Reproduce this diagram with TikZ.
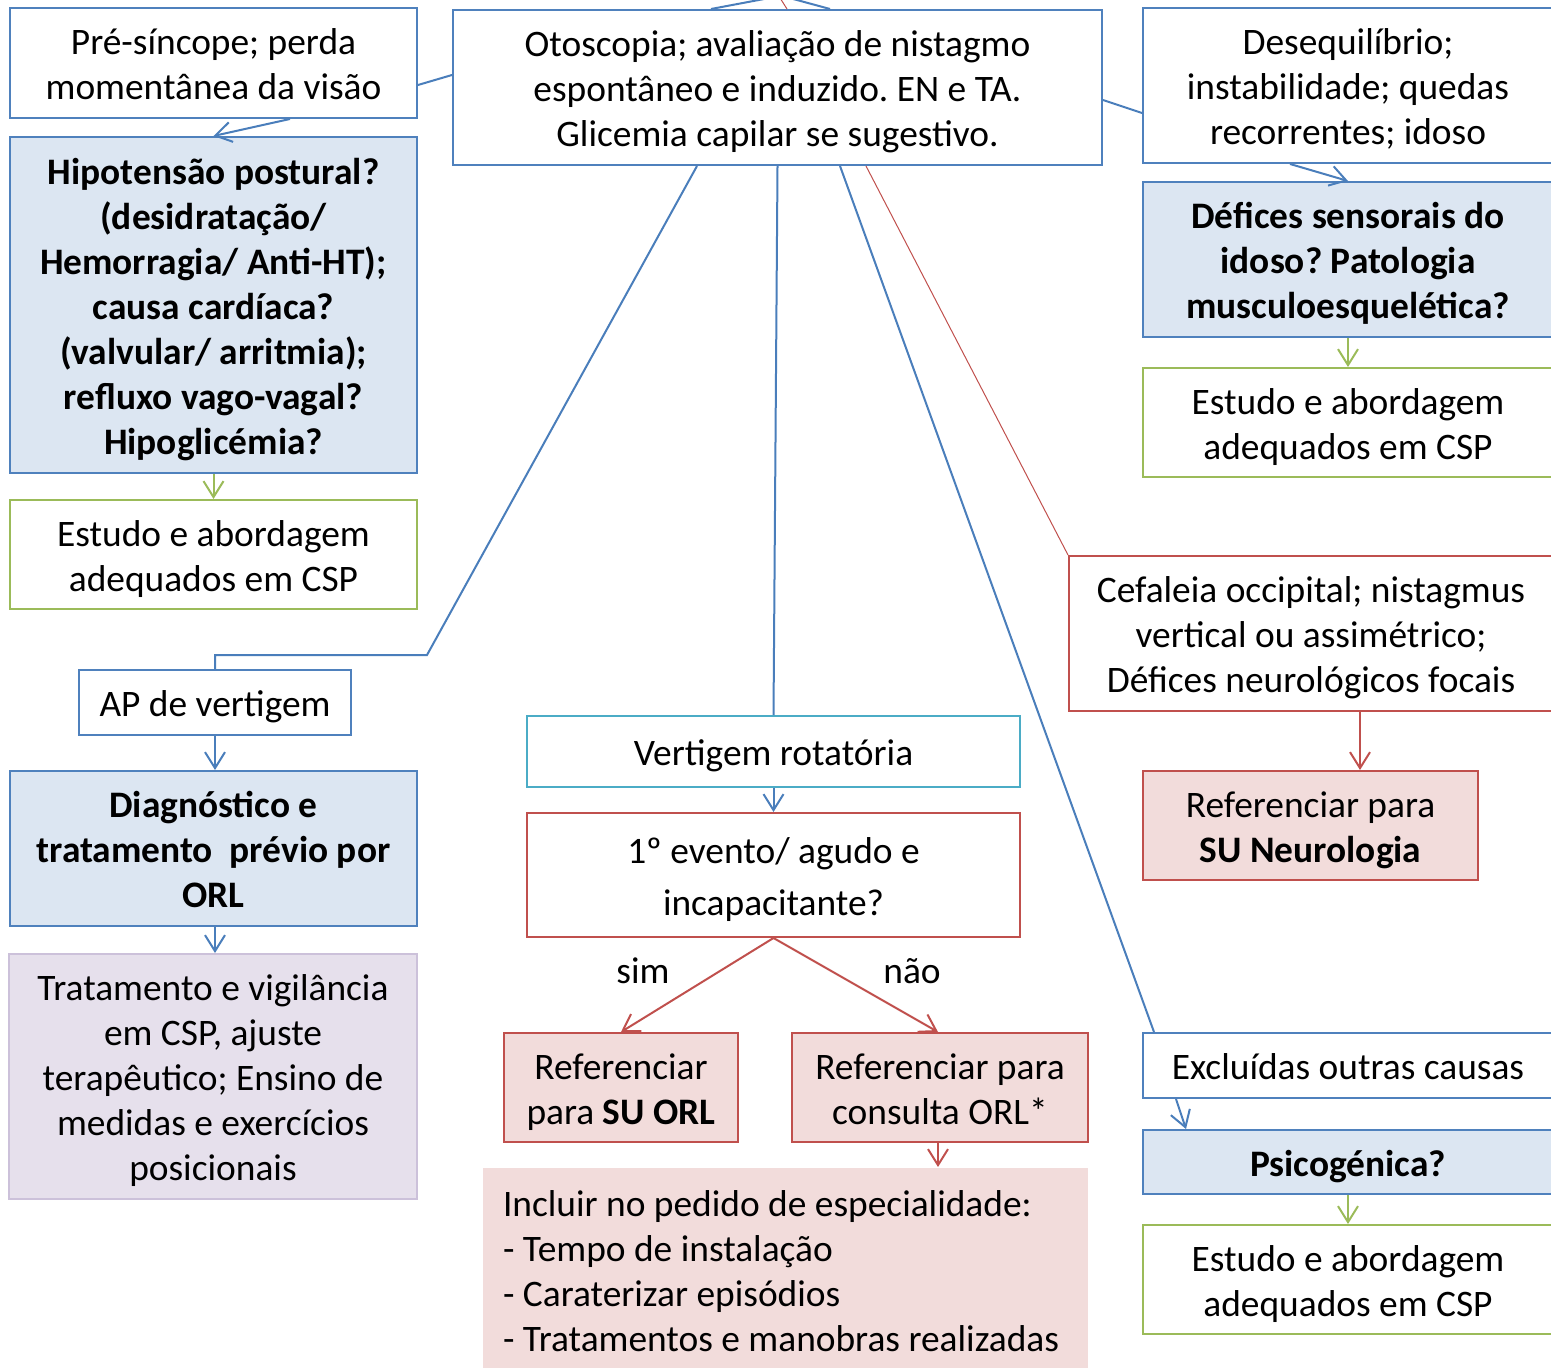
\documentclass[tikz,border=0pt]{standalone}
\usepackage{fontspec}
\setmainfont{Carlito}
\usetikzlibrary{arrows.meta}
\definecolor{bblue}{HTML}{4F81BD}
\definecolor{lblue}{HTML}{DCE6F2}
\definecolor{cblue}{HTML}{4A7EBB}
\definecolor{bgreen}{HTML}{9BBB59}
\definecolor{bred}{HTML}{C0504D}
\definecolor{lred}{HTML}{F2DCDB}
\definecolor{baqua}{HTML}{4BACC6}
\definecolor{lpurple}{HTML}{E6E0EC}
\definecolor{bpurple}{HTML}{CCC1DA}
\newcommand{\txtfont}{\fontsize{18.7}{22.5}\selectfont}
% fixed first-line height so that every box centres its text alike
\newcommand{\ts}{\rule{0pt}{20.5pt}}
\tikzset{
  base/.style={line width=1pt, inner sep=0pt, align=center, font=\txtfont,
    execute at end node={\rule[-6.3pt]{0pt}{6.3pt}}},
  wbox/.style={base, draw=bblue, fill=white},
  bbox/.style={base, draw=bblue, fill=lblue, font=\txtfont\bfseries},
  gbox/.style={base, draw=bgreen, fill=white},
  rbox/.style={base, draw=bred, fill=white},
  rfbox/.style={base, draw=bred, fill=lred},
  abox/.style={base, draw=baqua, fill=white},
  pbox/.style={base, draw=bpurple, fill=lpurple},
  conn/.style={draw=cblue, line width=1pt},
  rconn/.style={draw=bred, line width=1pt},
  gconn/.style={draw=bgreen, line width=1pt},
  arr/.style={-{Straight Barb[length=8pt,width=10pt]}},
  lbl/.style={font=\txtfont, inner sep=0pt}
}
\begin{document}
\frenchspacing
\begin{tikzpicture}[x=0.5pt,y=-0.5pt]
\useasboundingbox (0,0) rectangle (1551,1368);

% left column
\node[wbox, minimum width=203.5pt, minimum height=55pt] (pre) at (213.5,63)
  {\ts Pré-síncope; perda\\momentânea da visão};
\node[bbox, minimum width=203.5pt, minimum height=168pt] (hipo) at (213.5,305)
  {\ts Hipotensão postural?\\(desidratação/\\Hemorragia/ Anti-HT);\\causa cardíaca?\\(valvular/ arritmia);\\refluxo vago-vagal?\\Hipoglicémia?};
\node[gbox, minimum width=203.5pt, minimum height=54.5pt] (estL) at (213.5,554.5)
  {\ts Estudo e abordagem\\adequados em CSP};
\node[wbox, minimum width=136pt, minimum height=32.5pt] (ap) at (215,702.5)
  {\ts AP de vertigem};
\node[bbox, minimum width=203.5pt, minimum height=77.5pt] (diag) at (213.5,848.5)
  {\ts Diagnóstico e\\tratamento\ \ prévio por\\ORL};
\node[pbox, minimum width=204pt, minimum height=122.5pt] (trat) at (213,1076.5)
  {\ts Tratamento e vigilância\\em CSP, ajuste\\terapêutico; Ensino de\\medidas e exercícios\\posicionais};

% centre column
\node[wbox, minimum width=324.5pt, minimum height=77.5pt] (top) at (777.5,87.5)
  {\ts Otoscopia; avaliação de nistagmo\\espontâneo e induzido. EN e TA.\\Glicemia capilar se sugestivo.};
\node[abox, minimum width=246.5pt, minimum height=35.5pt] (vert) at (773.5,751.5)
  {\ts Vertigem rotatória};
\node[rbox, minimum width=246.5pt, minimum height=62pt, font=\fontsize{18.7}{26}\selectfont] (evt) at (773.5,875)
  {\ts 1º evento/ agudo e\\incapacitante?};
\node[rfbox, minimum width=117pt, minimum height=54.5pt] (suorl) at (621,1087.5)
  {\ts Referenciar\\para \textbf{SU ORL}};
\node[rfbox, minimum width=148pt, minimum height=54.5pt] (cons) at (940,1087.5)
  {\ts Referenciar para\\consulta ORL*};
\node[base, fill=lred, draw=none, inner xsep=10pt, text width=282.5pt, align=flush left,
  minimum height=102pt] (incl) at (785.5,1270)
  {\ts Incluir no pedido de especialidade:\\- Tempo de instalação\\- Caraterizar episódios\\- Tratamentos e manobras realizadas};
\node[lbl] (sim) at (643,971) {sim};
\node[lbl] (nao) at (912,971) {não};

% right column
\node[wbox, minimum width=205pt, minimum height=77.5pt] (deseq) at (1348,85.5)
  {\ts Desequilíbrio;\\instabilidade; quedas\\recorrentes; idoso};
\node[bbox, minimum width=205pt, minimum height=77.5pt] (defi) at (1348,259.5)
  {\ts Défices sensorais do\\idoso? Patologia\\musculoesquelética?};
\node[gbox, minimum width=205pt, minimum height=54.5pt] (estR) at (1348,422.5)
  {\ts Estudo e abordagem\\adequados em CSP};
\node[rbox, minimum width=242pt, minimum height=77.5pt] (cefa) at (1311,633.5)
  {\ts Cefaleia occipital; nistagmus\\vertical ou assimétrico;\\Défices neurológicos focais};
\node[rfbox, minimum width=167.5pt, minimum height=54.5pt] (neuro) at (1310.5,825.5)
  {\ts Referenciar para\\\textbf{SU Neurologia}};
\node[wbox, minimum width=205pt, minimum height=32.5pt] (excl) at (1348,1065.5)
  {\ts Excluídas outras causas};
\node[bbox, minimum width=205pt, minimum height=32pt] (psi) at (1348,1162)
  {\ts Psicogénica?};
\node[gbox, minimum width=205pt, minimum height=54.5pt] (estR2) at (1348,1279.5)
  {\ts Estudo e abordagem\\adequados em CSP};

% lines entering from above
\coordinate (upA) at (812,-10);
\coordinate (upB) at (775,-10);
\coordinate (upC) at (760,-10);
\draw[conn] ([xshift=-33.25pt]top.north) -- (upA);
\draw[draw=bred, line width=0.5pt] ([xshift=4.75pt]top.north) -- (upB);
\draw[conn] ([xshift=26.25pt]top.north) -- (upC);

% connectors of the left column
\draw[conn] ([yshift=6.25pt]top.west) -- ([yshift=-11pt]pre.east);
\draw[conn, arr] ([xshift=38.25pt]pre.south) -- (hipo.north);
\draw[gconn, arr] (hipo.south) -- (estL.north);
\coordinate (bendA) at (427,655);
\draw[conn] ([xshift=-40.25pt]top.south) -- (bendA) -- (bendA -| ap.north) -- (ap.north);
\draw[conn, arr] (ap.south) -- (ap.south |- diag.north);
\draw[conn, arr] (ap.south |- diag.south) -- (ap.south |- trat.north);

% connectors of the centre column
\draw[conn] (top.south) -- (vert.north);
\draw[conn, arr] (vert.south) -- (evt.north);
\draw[rconn, arr] (evt.south) -- (suorl.north);
\draw[rconn, arr] (evt.south) -- ([xshift=-1pt]cons.north);
\draw[rconn, arr] ([xshift=-1pt]cons.south) -- ([xshift=-1pt]cons.south |- incl.north);

% connectors of the right column
\draw[conn] ([yshift=-6.25pt]top.east) -- ([yshift=-13.75pt]deseq.west);
\draw[conn, arr] ([xshift=-29pt]deseq.south) -- (defi.north);
\draw[gconn, arr] (defi.south) -- (estR.north);
\draw[draw=bred, line width=0.5pt] ([xshift=44.25pt]top.south) -- (cefa.north west);
\draw[rconn, arr] ([xshift=24.5pt]cefa.south) -- ([xshift=24.5pt]cefa.south |- neuro.north);
\draw[conn] ([xshift=31.25pt]top.south) -- ([xshift=6pt]excl.north west);
\draw[conn, arr] ([xshift=17pt]excl.south west) -- ([xshift=22pt]psi.north west);
\draw[gconn, arr] (psi.south) -- (estR2.north);
\end{tikzpicture}
\end{document}
